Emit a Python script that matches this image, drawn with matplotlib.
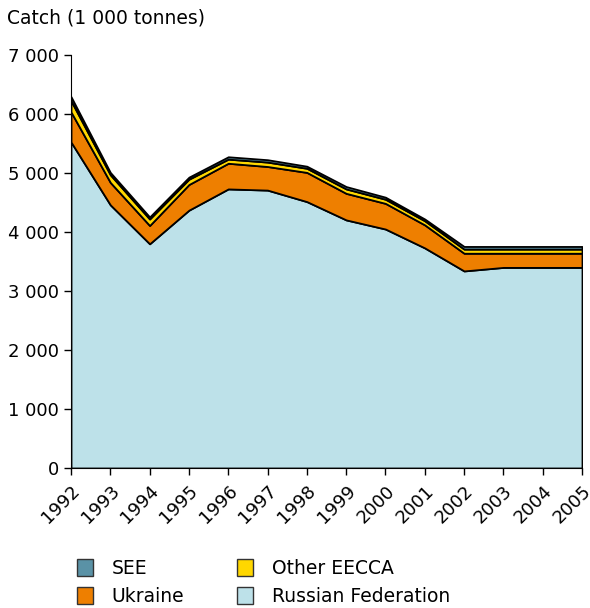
import matplotlib.pyplot as plt
from matplotlib.patches import Patch
from matplotlib.ticker import FuncFormatter

# Catch by region, 1 000 tonnes
years = list(range(1992, 2006))
russia = [5525, 4460, 3800, 4370, 4730, 4710, 4515, 4205, 4050, 3730, 3340, 3400, 3400, 3400]
ukraine = [510, 380, 310, 435, 435, 400, 495, 450, 435, 390, 300, 240, 240, 240]
other_eecca = [190, 130, 110, 90, 70, 75, 70, 75, 70, 70, 70, 70, 70, 70]
see = [70, 40, 35, 35, 40, 40, 35, 40, 35, 30, 45, 45, 45, 45]

labels = ['Russian Federation', 'Ukraine', 'Other EECCA', 'SEE']
colors = ['#BDE1E9', '#EE7F00', '#FFD700', '#5A92A6']

plt.rcParams['font.family'] = ['DejaVu Sans']
fig = plt.figure(figsize=(5.9, 6.08), dpi=100)
ax = fig.add_axes([71 / 590, 1 - 468 / 608, 511 / 590, 413 / 608])

ax.stackplot(years, russia, ukraine, other_eecca, see, colors=colors,
             edgecolor='black', linewidth=1.3)

ax.set_xlim(1992, 2005)
ax.set_ylim(0, 7000)
ax.set_yticks(range(0, 7001, 1000))
ax.yaxis.set_major_formatter(FuncFormatter(lambda v, p: f'{int(v):,}'.replace(',', ' ')))
ax.set_xticks(years)
ax.set_xticklabels([str(y) for y in years], rotation=45, ha='right', va='top',
                   rotation_mode='anchor')
ax.tick_params(labelsize=13, length=5, width=1, direction='out')
ax.tick_params(axis='x', pad=5)

for s in ['top', 'right']:
    ax.spines[s].set_visible(False)

fig.text(7 / 590, 1 - 18 / 608, 'Catch (1 000 tonnes)', fontsize=13.5, va='center')

handles = [Patch(facecolor=colors[3], edgecolor='#333333', label='SEE'),
           Patch(facecolor=colors[1], edgecolor='#333333', label='Ukraine'),
           Patch(facecolor=colors[2], edgecolor='#333333', label='Other EECCA'),
           Patch(facecolor=colors[0], edgecolor='#333333', label='Russian Federation')]
fig.legend(handles=handles, ncol=2, loc='upper left',
           bbox_to_anchor=(64 / 590, 1 - 546 / 608), frameon=False,
           fontsize=13.5, handlelength=0.85, handleheight=1.0,
           columnspacing=2.8, labelspacing=0.45, handletextpad=1.0,
           borderpad=0.2)

fig.savefig('out.png', dpi=100)
